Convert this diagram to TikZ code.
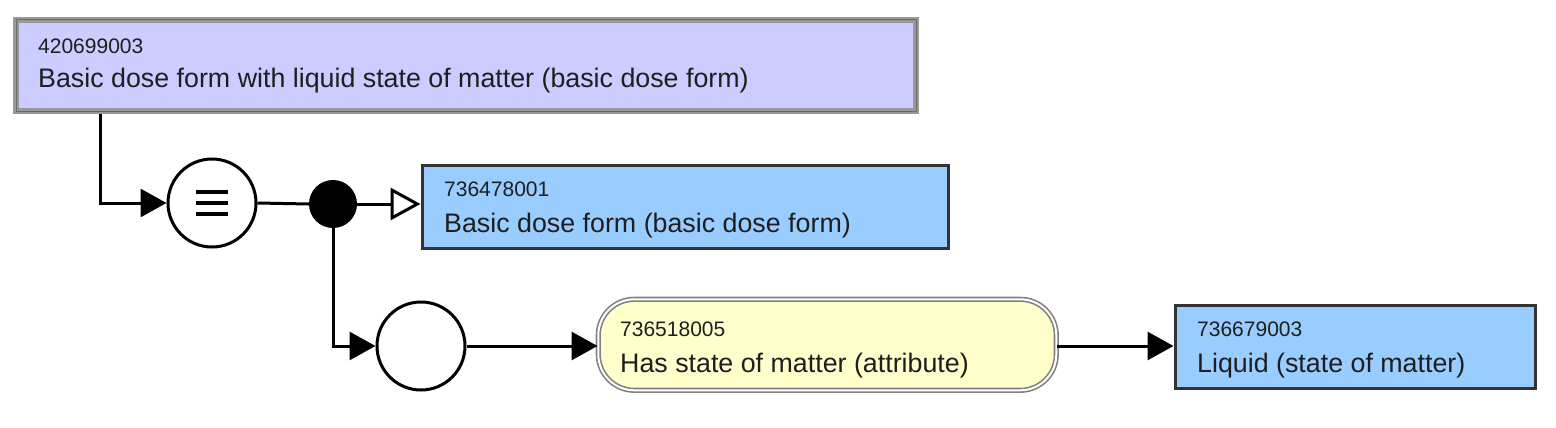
\documentclass[tikz,border=0pt]{standalone}
\usepackage{fontspec}
\setmainfont{Liberation Sans}
\usetikzlibrary{arrows.meta}
\definecolor{defconcept}{HTML}{CCCCFF}
\definecolor{primconcept}{HTML}{99CCFF}
\definecolor{attrconcept}{HTML}{FFFFCC}
\definecolor{rim}{HTML}{333333}
\definecolor{defrim}{HTML}{999999}
\definecolor{attrrim}{HTML}{808080}
\definecolor{ink}{HTML}{1E1E1E}

\begin{document}
\begin{tikzpicture}[x=1pt,y=-1pt,
    concept/.style={draw=rim,line width=3pt,fill=primconcept,anchor=north west,inner sep=0pt},
    defined/.style={draw=defrim,line width=6pt,fill=defconcept,anchor=north west,inner sep=0pt},
    attribute/.style={draw=attrrim,double=white,double distance=2pt,line width=1.6pt,fill=attrconcept,
        rounded corners=36pt,anchor=north west,inner sep=0pt},
    operator/.style={circle,draw=black,line width=3pt,fill=white,minimum size=88pt,inner sep=0pt},
    conjunction/.style={circle,fill=black,minimum size=48pt,inner sep=0pt},
    idtext/.style={anchor=base west,inner sep=0pt,text=ink,font=\fontsize{21}{24}\selectfont},
    termtext/.style={anchor=base west,inner sep=0pt,text=ink,font=\fontsize{26.8}{30}\selectfont},
    rel/.style={line width=3pt,-{Triangle[length=26pt,width=28pt]}},
    isa/.style={line width=3pt,-{Triangle[open,length=30pt,width=32pt]}}]
    \useasboundingbox (0,0) rectangle (1556,428);
    % concepts
    \node[defined,minimum width=900pt,minimum height=91pt] (top) at (13,17) {};
    \draw[line width=1pt,draw=defrim!70!black] ([shift={(3,-3)}]top.south west) rectangle ([shift={(-3,3)}]top.north east);
    \node[idtext] (topid) at (38,54) {420699003};
    \node[termtext] (topterm) at (38,88) {Basic dose form with liquid state of matter (basic dose form)};
    \node[concept,minimum width=526pt,minimum height=83pt] (parent) at (420.5,163.5) {};
    \node[idtext] (parentid) at (444,196) {736478001};
    \node[termtext] (parentterm) at (444,232) {Basic dose form (basic dose form)};
    \node[attribute,minimum width=458pt,minimum height=91pt] (attr) at (597.5,298.5) {};
    \node[idtext] (attrid) at (620,336) {736518005};
    \node[termtext] (attrterm) at (620,372) {Has state of matter (attribute)};
    \node[concept,minimum width=360pt,minimum height=83pt] (value) at (1173.5,303.5) {};
    \node[idtext] (valueid) at (1197,336) {736679003};
    \node[termtext] (valueterm) at (1197,372) {Liquid (state of matter)};
    % operators
    \node[operator] (equiv) at (212,203) {};
    \foreach \dy in {-11,0,11}
        \draw[line width=3.5pt] ([shift={(-16,\dy)}]equiv.center) -- ([shift={(16,\dy)}]equiv.center);
    \node[conjunction] (conj) at (333,204) {};
    \node[operator] (group) at (421,346) {};
    % connectors
    \draw[rel] ([xshift=87pt]top.south west) |- (equiv.west);
    \draw[line width=3pt] (equiv.east) -- (conj.west);
    \draw[isa] (conj.east) -- (conj.east -| parent.west);
    \draw[rel] (conj.south) |- (group.west);
    \draw[rel] (group.east) -- (group.east -| attr.west);
    \draw[rel] (attr.east |- group.east) -- (group.east -| value.west);
\end{tikzpicture}
\end{document}
